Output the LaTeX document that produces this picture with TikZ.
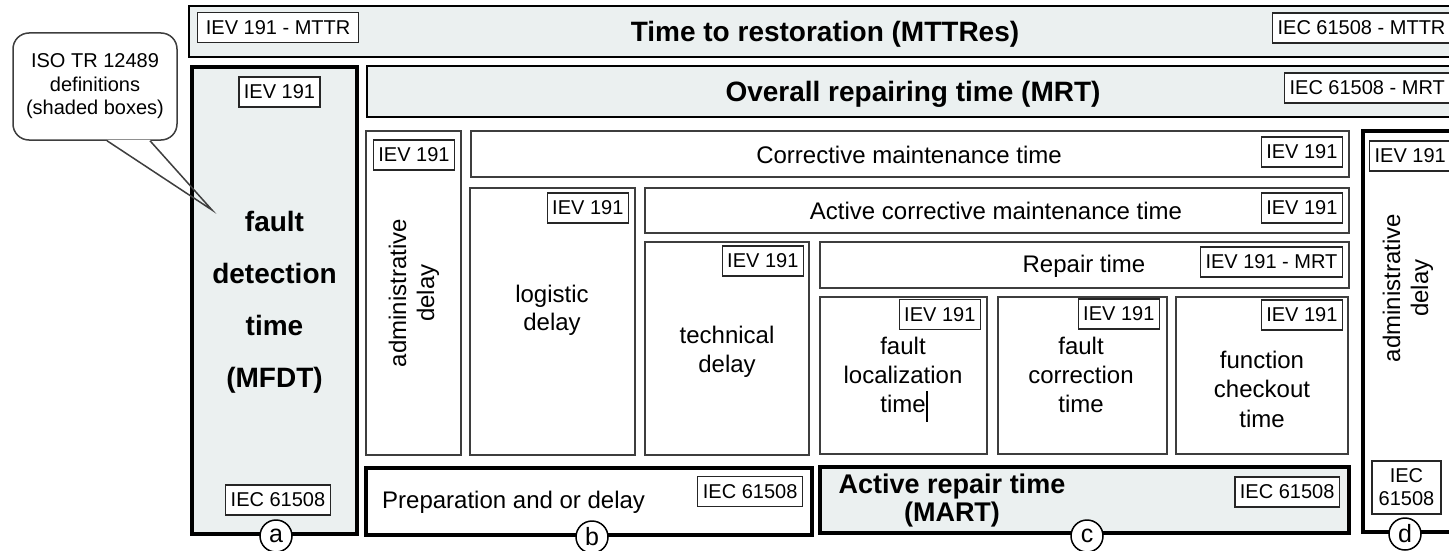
\documentclass[tikz,border=0pt]{standalone}
\usepackage{fontspec}
\setmainfont{Liberation Sans}
\usetikzlibrary{fit,calc}
\definecolor{shade}{RGB}{235,240,240}
\definecolor{edge}{RGB}{62,62,62}

\tikzset{
  cellbox/.style={draw=edge, line width=1.6pt, fill=white, inner sep=0pt},
  bandbox/.style={draw=black, line width=2.6pt, fill=shade, inner sep=0pt},
  heavybox/.style={draw=black, line width=4pt, inner sep=0pt},
  tagbox/.style={draw=black!85, line width=1.2pt, fill=white, align=center,
    font=\fontsize{20}{23}\selectfont, minimum height=30pt, inner xsep=5pt, inner ysep=0pt},
  lbl/.style={font=\fontsize{24}{29}\selectfont, align=center, inner sep=0pt},
  blbl/.style={font=\bfseries\fontsize{28}{34}\selectfont, align=center, inner sep=0pt},
  letterc/.style={circle, draw=black, line width=1.5pt, fill=white, minimum size=32pt,
    inner sep=0pt, font=\fontsize{25}{25}\selectfont},
  callout/.style={draw=edge, line width=1.5pt, fill=white, rounded corners=16pt,
    minimum width=164pt, minimum height=107pt, align=center, inner sep=0pt,
    font=\fontsize{20}{23.5}\selectfont},
  pointer/.style={draw=edge, line width=1.5pt, line join=miter}
}

\begin{document}
\begin{tikzpicture}[x=1pt,y=-1pt]
\useasboundingbox (0,0) rectangle (1449,551);
\clip (0,0) rectangle (1449,551);
\fill[white] (0,0) rectangle (1449,551);

% speech bubble naming the shaded definitions
\node[callout] (iso) at (95,86.5) {ISO TR 12489\\definitions\\(shaded boxes)};
\coordinate (tip) at (212,210);
\fill[white] ($(iso.south)+(12,-1)$) -- (tip) -- ($(iso.south)+(55,-1)$) -- cycle;

% top bands
\node[bandbox, fit={(189,6)(1462,57)}] (mttres) {};
\node[blbl, anchor=base] (mttrestxt) at (825,42) {Time to restoration (MTTRes)};
\node[tagbox, anchor=west, minimum width=161pt] (mttresl) at (197,27.5) {IEV 191 - MTTR};
\node[tagbox, anchor=west] (mttresr) at (1272,28) {IEC 61508 - MTTR};

\node[bandbox, fit={(367,66)(1462,117)}] (mrt) {};
\node[blbl, anchor=base] (mrttxt) at (913,102) {Overall repairing time (MRT)};
\node[tagbox, anchor=west] (mrtr) at (1284,88) {IEC 61508 - MRT};

% (a) fault detection time
\node[heavybox, fill=shade, fit={(192,67)(357,534)}] (mfdt) {};
\node[tagbox] (mfdtt) at (279.5,92) {IEV 191};
\node[tagbox] (mfdtb) at (278,500) {IEC 61508};
\node[blbl, font=\bfseries\fontsize{28}{52}\selectfont, anchor=base] (mfdttxt) at (274.5,387)
  {fault\\detection\\time\\(MFDT)};
\draw[pointer] ($(iso.south)+(12,0)$) -- (tip) -- ($(iso.south)+(55,0)$);

% left administrative delay
\node[cellbox, fit={(366,131)(461,455)}] (adml) {};
\node[tagbox] (admlt) at (414,155) {IEV 191};
\node[lbl, font=\fontsize{24}{28}\selectfont, rotate=90] (admltxt) at (414,293) {administrative\\delay};

% corrective maintenance time
\node[cellbox, fit={(471,131)(1349,177)}] (corr) {};
\node[lbl, anchor=base] (corrtxt) at (909,163) {Corrective maintenance time};
\node[tagbox, anchor=east] (corrt) at (1343,152) {IEV 191};

% logistic delay
\node[cellbox, fit={(470,188)(635,455)}] (logi) {};
\node[tagbox, anchor=east] (logit) at (629,208) {IEV 191};
\node[lbl, font=\fontsize{24}{28}\selectfont, anchor=base] (logitxt) at (552,330) {logistic\\delay};

% active corrective maintenance time
\node[cellbox, fit={(645,188)(1349,233)}] (acm) {};
\node[lbl, anchor=base] (acmtxt) at (996,219) {Active corrective maintenance time};
\node[tagbox, anchor=east] (acmt) at (1343,208) {IEV 191};

% technical delay
\node[cellbox, fit={(645,242)(809,455)}] (tech) {};
\node[tagbox, anchor=east] (techt) at (804,261) {IEV 191};
\node[lbl, anchor=base] (techtxt) at (727,372) {technical\\delay};

% repair time
\node[cellbox, fit={(820,242)(1349,288)}] (rep) {};
\node[lbl, anchor=base] (reptxt) at (1084,272) {Repair time};
\node[tagbox, anchor=east] (rept) at (1343,262) {IEV 191 - MRT};

% fault localization time
\node[cellbox, fit={(820,297)(987,454)}] (loc) {};
\node[tagbox, anchor=east] (loct) at (981,314.5) {IEV 191};
\node[lbl, anchor=base] (loctxt) at (903,412) {fault\\localization\\time};
\draw[line width=1.3pt] (927,391) -- (927,422);

% fault correction time
\node[cellbox, fit={(998,297)(1167,454)}] (fcor) {};
\node[tagbox, anchor=east] (fcort) at (1160,314) {IEV 191};
\node[lbl, anchor=base] (fcortxt) at (1081,412) {fault\\correction\\time};

% function checkout time
\node[cellbox, fit={(1176,297)(1348,454)}] (chk) {};
\node[tagbox, anchor=east] (chkt) at (1343,315) {IEV 191};
\node[lbl, font=\fontsize{24}{29.5}\selectfont, anchor=base] (chktxt) at (1262,427) {function\\checkout\\time};

% (d) right administrative delay
\node[heavybox, fill=white, fit={(1363,131)(1452,532)}] (admr) {};
\node[tagbox, anchor=west] (admrt) at (1369,156) {IEV 191};
\node[lbl, font=\fontsize{24}{28}\selectfont, rotate=90] (admrtxt) at (1408,288) {administrative\\delay};
\node[tagbox, minimum height=53pt, minimum width=69pt] (admrb) at (1406.5,487.5) {IEC\\61508};

% (b) preparation and or delay
\node[heavybox, fill=white, fit={(366,468)(812,535)}] (prep) {};
\node[lbl, anchor=base west] (preptxt) at (382,508) {Preparation and or delay};
\node[tagbox, anchor=east] (prept) at (803,491.5) {IEC 61508};

% (c) active repair time
\node[heavybox, fill=shade, fit={(820,467)(1349,533)}] (art) {};
\node[blbl, font=\bfseries\fontsize{27}{28}\selectfont, anchor=base] (arttxt) at (952,521) {Active repair time\\(MART)};
\node[tagbox, anchor=east] (artt) at (1340,492) {IEC 61508};

% letter markers on the lower edges
\node[letterc] (la) at ($(mfdt.south)+(1.5,0)$) {a};
\node[letterc] (lb) at ($(prep.south)+(3,0)$) {b};
\node[letterc] (lc) at ($(art.south)+(2.5,1)$) {c};
\node[letterc] (ld) at ($(admr.south)+(-2.5,0)$) {d};
\end{tikzpicture}
\end{document}
